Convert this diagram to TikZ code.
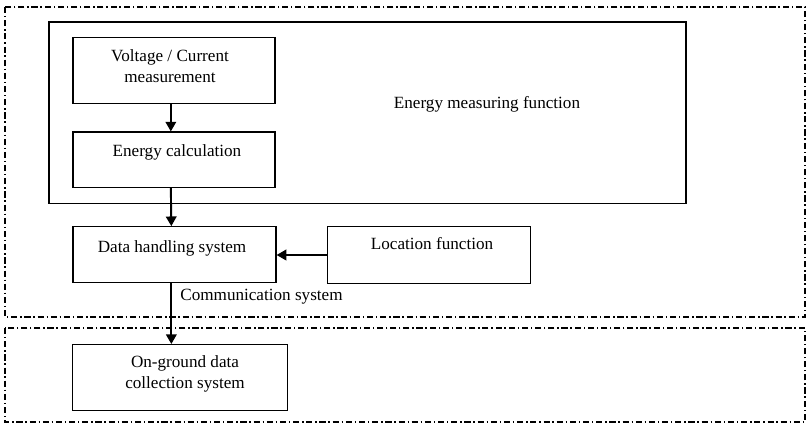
\documentclass[tikz,border=0pt]{standalone}
\usepackage{fontspec}
\setmainfont{Liberation Serif}
\usetikzlibrary{arrows.meta}
\tikzset{
  zone/.style={line width=0.6pt, dash pattern=on 3.5pt off 1.6pt on 0.8pt off 1.6pt},
  box/.style={draw, line width=0.7pt, inner sep=0pt},
  txt/.style={align=center, inner sep=0pt, font=\fontsize{9.75}{11.9}\selectfont},
  arr/.style={line width=1.1pt, -{Triangle[length=5.5pt,width=6pt]}},
}

\begin{document}
\begin{tikzpicture}[x=0.02cm, y=-0.02cm]
		%%%%% START %%%%%
		\useasboundingbox (0,0) rectangle (810,428);
		
		% on-board and on-ground zones
		\draw[zone] (5,7) rectangle (805,317);
		\draw[zone] (5,328) rectangle (805,422);
		
		\node[box, minimum width=12.74cm, minimum height=3.63cm] (emf) at (367.5,112.7) {};
		\node[txt] (emf-t) at (487,104) {Energy measuring function};
		
		\node[box, minimum width=4.04cm, minimum height=1.31cm] (vcm) at (174,70.4) {};
		\node[txt] (vcm-t) at (170,66.5) {Voltage / Current\\measurement};
		
		\node[box, minimum width=4.04cm, minimum height=1.106cm] (ecal) at (174,159.7) {};
		\node[txt] (ecal-t) at (177,152.5) {Energy calculation};
		
		\node[box, minimum width=4.06cm, minimum height=1.11cm] (dhs) at (174.5,254.5) {};
		\node[txt] (dhs-t) at (172,248) {Data handling system};
		
		\node[box, minimum width=4.05cm, minimum height=1.13cm] (loc) at (429,255) {};
		\node[txt] (loc-t) at (432,243.5) {Location function};
		
		\node[box, minimum width=4.29cm, minimum height=1.31cm] (ogd) at (180,377.4) {};
		\node[txt] (ogd-t) at (185,373.5) {On-ground data\\collection system};
		
		\node[txt, anchor=west] (com-t) at (180,297) {Communication system};
		
		% arrows
		\draw[arr] ([xshift=-1.8pt]vcm.south) -- ([xshift=-1.8pt]ecal.north);
		\draw[arr] ([xshift=-1.8pt]ecal.south) -- ([xshift=-1.8pt]dhs.north);
		\draw[arr] (loc.west) -- (loc.west -| dhs.east);
		\draw[arr] ([xshift=-1.8pt]dhs.south) -- ([xshift=-1.8pt]dhs.south |- ogd.north);
		%%%%% END %%%%%
\end{tikzpicture}
\end{document}
